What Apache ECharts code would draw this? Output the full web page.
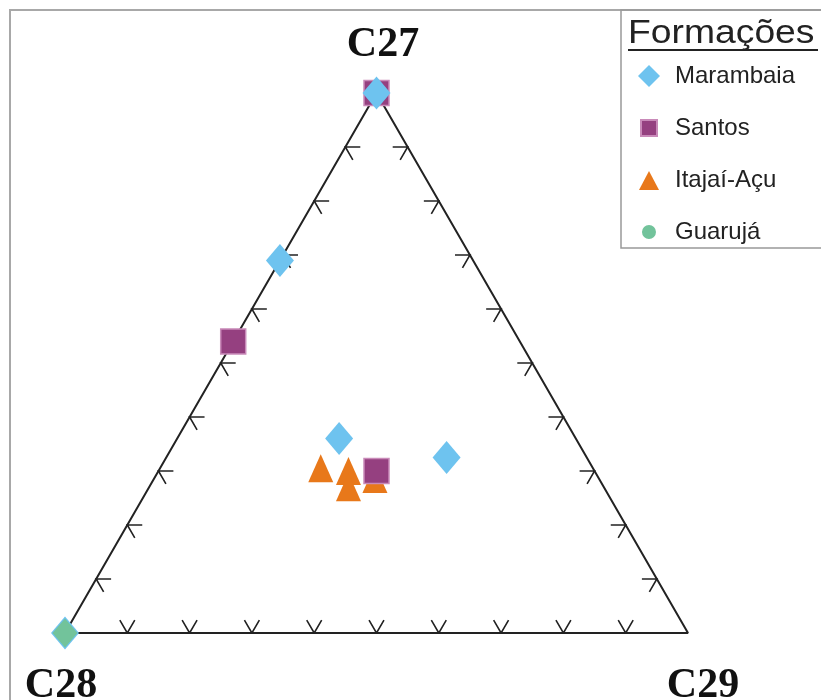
<!DOCTYPE html>
<html>
<head>
<meta charset="utf-8">
<script src="https://cdn.jsdelivr.net/npm/echarts@6/dist/echarts.min.js"></script>
<style>
html,body{margin:0;padding:0;background:#fff}
#chart{width:821px;height:700px}
</style>
</head>
<body>
<div id="chart"></div>
<script>
// composições em % : [C27, C28, C29]
const vertexNames = ['C27', 'C28', 'C29'];
const tickValues = [10, 20, 30, 40, 50, 60, 70, 80, 90];
const marambaia = [[100, 0, 0], [69, 31, 0], [36, 38, 26], [32.5, 22.5, 45], [0, 100, 0]];
const santos = [[100, 0, 0], [54, 46, 0], [30, 35, 35]];
const itajai = [[30.5, 43.7, 25.8], [30, 39.5, 30.5], [27, 41, 32], [28.5, 36, 35.5]];
const guaruja = [[0, 100, 0]];

const H = Math.sqrt(3) / 2;
// ternario -> cartesiano (C28 esquerda, C29 direita, C27 topo)
function toXY(p) {
  var s = p[0] + p[1] + p[2];
  return [(p[2] + p[0] / 2) / s, p[0] / s * H];
}

// marcas dos eixos (chevrons para dentro)
var L = 0.024;
var ticks = [];
tickValues.forEach(function (t) {
  var a = toXY([t, 100 - t, 0]); // lado C28-C27
  ticks.push({coords: [[a[0] + L, a[1]], a, [a[0] + L * 0.5, a[1] - L * H]]});
  var b = toXY([0, 100 - t, t]); // base C28-C29
  ticks.push({coords: [[b[0] - L * 0.5, b[1] + L * H], b, [b[0] + L * 0.5, b[1] + L * H]]});
  var c = toXY([t, 0, 100 - t]); // lado C29-C27
  ticks.push({coords: [[c[0] - L, c[1]], c, [c[0] - L * 0.5, c[1] - L * H]]});
});
var frame = [[0, 100, 0], [0, 0, 100], [100, 0, 0], [0, 100, 0]].map(toXY);

var chart = echarts.init(document.getElementById('chart'));
chart.setOption({
  backgroundColor: '#fff',
  animation: false,
  grid: {left: 65, top: 93, width: 623, height: 540},
  xAxis: {type: 'value', min: 0, max: 1, show: false},
  yAxis: {type: 'value', min: 0, max: H, show: false},
  legend: {
    orient: 'vertical',
    left: 637,
    top: 64,
    padding: 0,
    itemWidth: 22,
    itemHeight: 22,
    itemGap: 28,
    textStyle: {fontFamily: 'Liberation Sans', fontSize: 24, color: '#222', padding: [0, 0, 0, 10]},
    data: [
      {name: 'Marambaia', icon: 'diamond'},
      {name: 'Santos', icon: 'path://M0,0M22,22M3,3H19V19H3Z'},
      {name: 'Itajaí-Açu', icon: 'path://M0,0M22,22M11,2L21,21H1Z'},
      {name: 'Guarujá', icon: 'path://M0,0M22,22M11,4A7,7,0,1,1,10.99,4Z'}
    ]
  },
  graphic: [
    {type: 'rect', shape: {x: 10, y: 10, width: 840, height: 720}, style: {fill: null, stroke: '#a8a8a8', lineWidth: 2}, silent: true},
    {type: 'rect', shape: {x: 621, y: 10, width: 240, height: 238}, style: {fill: null, stroke: '#999', lineWidth: 1.5}, silent: true},
    {type: 'text', x: 628, y: 34, scaleX: 1.13, style: {text: 'Formações', x: 0, y: 0, fontFamily: 'Liberation Sans', fontSize: 33, fill: '#222', verticalAlign: 'middle'}},
    {type: 'line', shape: {x1: 628, y1: 50, x2: 818, y2: 50}, style: {stroke: '#222', lineWidth: 2}, silent: true},
    {type: 'text', x: 383, y: 45, style: {text: vertexNames[0], fontFamily: 'Liberation Serif', fontWeight: 'bold', fontSize: 42, fill: '#111', align: 'center', verticalAlign: 'middle'}},
    {type: 'text', x: 61, y: 686, style: {text: vertexNames[1], fontFamily: 'Liberation Serif', fontWeight: 'bold', fontSize: 42, fill: '#111', align: 'center', verticalAlign: 'middle'}},
    {type: 'text', x: 703, y: 686, style: {text: vertexNames[2], fontFamily: 'Liberation Serif', fontWeight: 'bold', fontSize: 42, fill: '#111', align: 'center', verticalAlign: 'middle'}}
  ],
  series: [
    {type: 'line', data: frame, symbol: 'none', silent: true, lineStyle: {color: '#222', width: 2}, z: 1},
    {type: 'lines', coordinateSystem: 'cartesian2d', polyline: true, data: ticks, silent: true, lineStyle: {color: '#222', width: 1.6, opacity: 1}, z: 1},
    {name: 'Marambaia', type: 'scatter', symbol: 'diamond', symbolSize: [28, 33], data: marambaia.map(toXY),
      itemStyle: {color: '#6EC3EF', opacity: 1}, z: 5},
    {name: 'Santos', type: 'scatter', symbol: 'rect', symbolSize: 25, data: santos.map(toXY),
      itemStyle: {color: '#954080', borderColor: '#C98AB9', borderWidth: 1.5, opacity: 1}, z: 4},
    {name: 'Itajaí-Açu', type: 'scatter', symbol: 'triangle', symbolSize: [25, 28], data: itajai.map(toXY),
      itemStyle: {color: '#E8781A', opacity: 1}, z: 3},
    {name: 'Guarujá', type: 'scatter', symbol: 'diamond', symbolSize: [25, 29], data: guaruja.map(toXY),
      itemStyle: {color: '#72C39B', opacity: 1}, z: 6}
  ]
});
</script>
</body>
</html>
